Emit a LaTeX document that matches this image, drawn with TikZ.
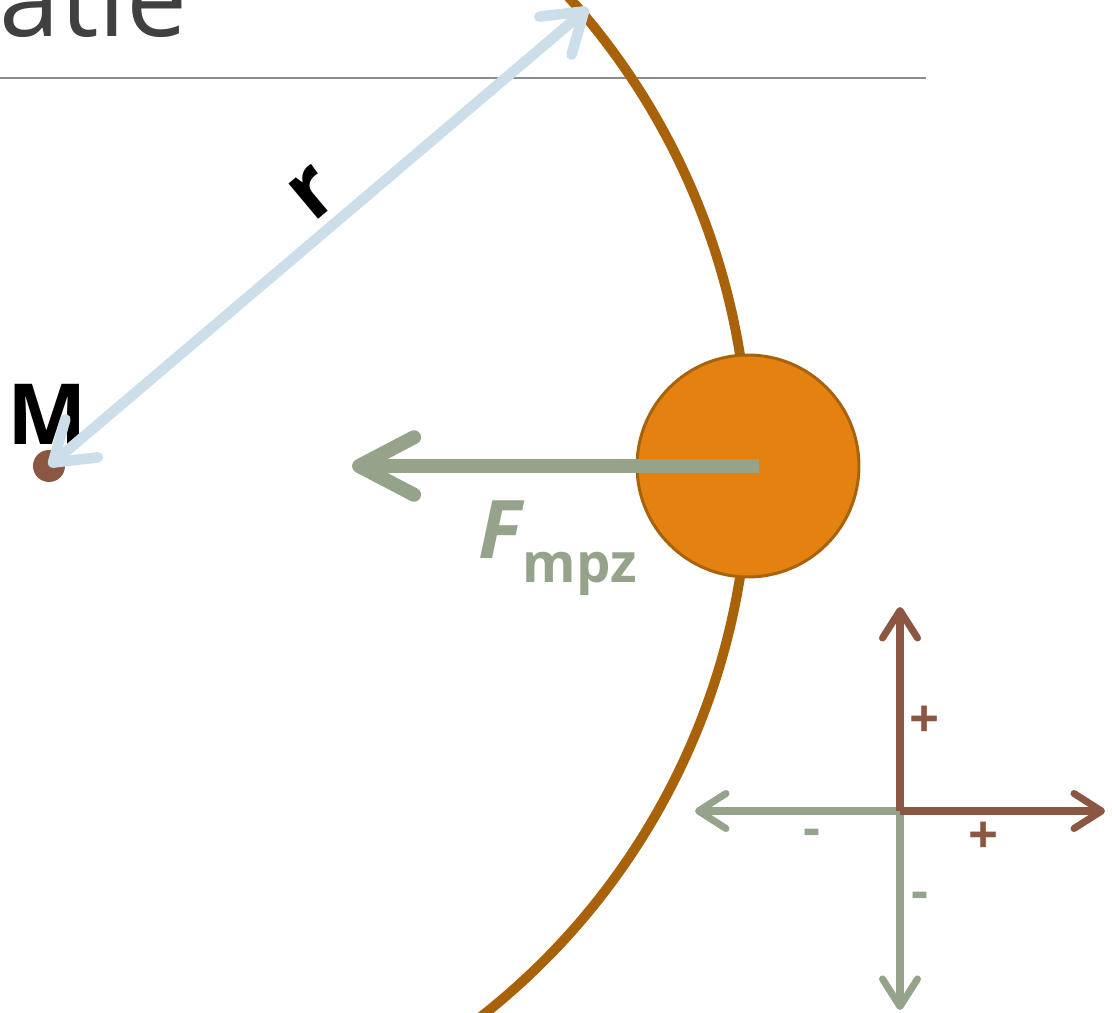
\documentclass[tikz,border=0pt]{standalone}
\usepackage{fontspec}
\setmainfont{Open Sans}
\usetikzlibrary{positioning,arrows.meta}
\definecolor{TitleGray}{RGB}{64,64,64}
\definecolor{RuleGray}{RGB}{140,140,140}
\definecolor{OrbitBrown}{RGB}{168,98,10}
\definecolor{PlanetOrange}{RGB}{227,130,17}
\definecolor{MassBrown}{RGB}{139,87,66}
\definecolor{SageGreen}{RGB}{149,163,138}
\definecolor{RadiusBlue}{RGB}{204,222,234}
\tikzset{
  orbit/.style={draw=OrbitBrown,line width=5.6pt},
  forceflow/.style={-{Straight Barb[round,length=1.1cm,width=1.15cm]},line width=8pt,draw=SageGreen},
  radiusflow/.style={{Straight Barb[round,length=0.75cm,width=1.0cm]}-{Straight Barb[round,length=0.75cm,width=1.0cm]},
    line width=6pt,draw=RadiusBlue},
  posaxis/.style={-{Straight Barb[round,length=0.55cm,width=0.7cm]},line width=4pt,draw=MassBrown},
  negaxis/.style={-{Straight Barb[round,length=0.55cm,width=0.7cm]},line width=4pt,draw=SageGreen},
  biglabel/.style={font=\fontsize{48}{48}\selectfont\bfseries,inner sep=0pt},
  signlabel/.style={font=\fontsize{30}{30}\selectfont\bfseries,inner sep=0pt}
}

\begin{document}
\begin{tikzpicture}[x=0.02cm,y=0.02cm]
  \useasboundingbox (0,0) rectangle (1112,-1013);

  % title and rule
  \node[anchor=base east,inner sep=0pt,text=TitleGray,font=\fontsize{62}{62}\selectfont] (title) at (188,-37) {atie};
  \coordinate (ruleL) at (0,-78);
  \coordinate (ruleR) at (926,-78);
  \draw[RuleGray,line width=1.1pt] (ruleL) -- (ruleR);

  % central mass and orbit
  \node[circle,fill=MassBrown,minimum size=0.64cm,inner sep=0pt] (M) at (49,-466) {};
  \node[biglabel] (Mlabel) at (47,-414) {M};
  \draw[orbit] (M.center) ++(-60:14cm) arc[start angle=-60,end angle=50,radius=14cm];

  % radius
  \coordinate (rtop) at (588,-8);
  \draw[radiusflow] (M.center) -- (rtop);
  \node[biglabel,rotate=40] (rlabel) at (313,-193) {r};

  % planet and force
  \node[circle,draw=OrbitBrown,fill=PlanetOrange,line width=1.7pt,minimum size=4.44cm,inner sep=0pt] (planet) at (748,-466) {};
  \coordinate (Ftip) at (352,-466);
  \draw[forceflow] ([xshift=0.22cm]planet.center) -- (Ftip);
  \node[inner sep=0pt,text=SageGreen,anchor=base west] (Flabel) at (478,-558)
    {\fontsize{46}{46}\selectfont\bfseries\itshape F\hspace{0.02em}\raisebox{-0.3em}{\fontsize{31}{31}\selectfont\upshape mpz}};

  % sign axes
  \coordinate (O) at (900,-811);
  \coordinate (xneg) at (695,-811);
  \coordinate (yneg) at (900,-1010);
  \coordinate (xpos) at (1105,-811);
  \coordinate (ypos) at (900,-607);
  \draw[negaxis] (O) -- (xneg);
  \draw[negaxis] (O) -- (yneg);
  \draw[posaxis] (O) -- (xpos);
  \draw[posaxis] (O) -- (ypos);
  \node[signlabel,text=MassBrown] (yplus) at (925,-722) {+};
  \node[signlabel,text=MassBrown] (xplus) at (984,-838) {+};
  \node[signlabel,text=SageGreen] (xminus) at (812,-838) {-};
  \node[signlabel,text=SageGreen] (yminus) at (920,-901) {-};
\end{tikzpicture}
\end{document}
